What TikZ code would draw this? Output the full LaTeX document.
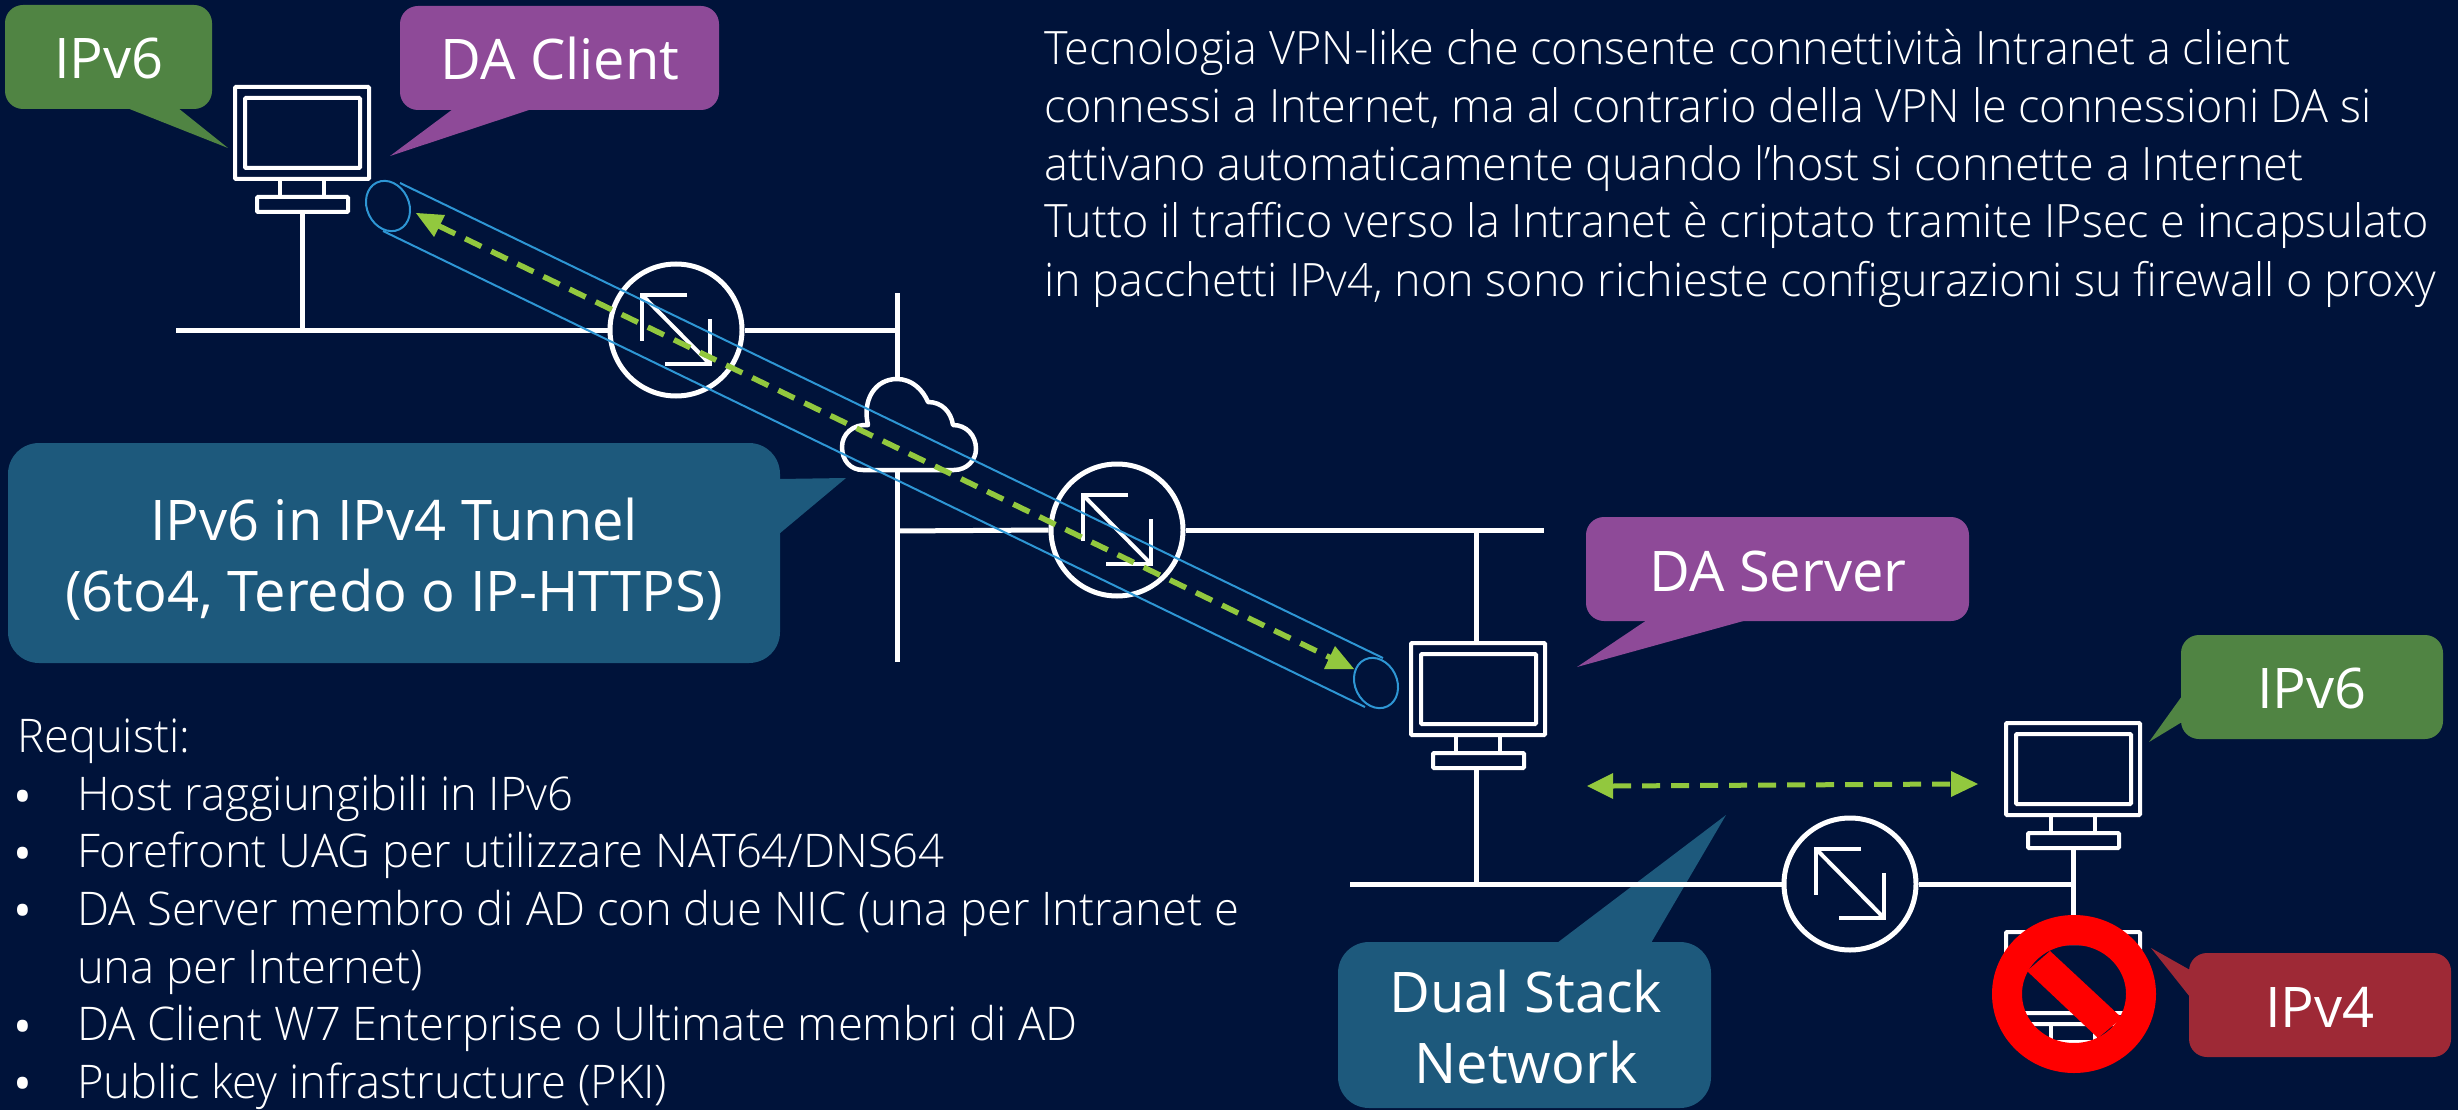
\documentclass[tikz,border=0pt]{standalone}
\usepackage{fontspec}
\setmainfont{Open Sans}
\newfontfamily\lightfont[FakeStretch=0.978]{Open Sans Light}
\usetikzlibrary{arrows.meta}
\definecolor{bgc}{RGB}{0,19,58}
\definecolor{gr}{RGB}{80,132,67}
\definecolor{pu}{RGB}{142,74,152}
\definecolor{te}{RGB}{29,89,124}
\definecolor{re}{RGB}{158,41,54}
\definecolor{tun}{RGB}{46,150,212}
\definecolor{lime}{RGB}{146,200,62}
\tikzset{
 wire/.style={draw=white,line width=5pt},
 thin wire/.style={draw=white,line width=4pt},
 scr/.style={draw=white,line width=4pt,rounded corners=1pt},
 callout/.style={rounded corners=18pt},
 big callout/.style={rounded corners=31pt},
 lab/.style={text=white,font=\fontsize{56}{71}\selectfont,align=center,inner sep=0pt},
 one/.style={lab,anchor=base},
 body/.style={text=white,anchor=base west,inner sep=0pt,font=\lightfont\fontsize{46}{54}\selectfont},
 reqbody/.style={body,font=\lightfont\fontsize{46.4}{54}\selectfont},
 bullet/.style={text=white,anchor=center,inner sep=0pt,font=\fontsize{50}{50}\selectfont},
 dash line/.style={draw=lime,line width=5.5pt,dash pattern=on 18pt off 11pt},
 tube/.style={draw=tun,line width=2pt},
}
\newcommand{\monitor}[2]{%
 \draw[scr] (#1-67,#2-45) rectangle (#1+67,#2+47);
 \draw[scr] (#1-57,#2-34) rectangle (#1+58,#2+36);
 \draw[thin wire] (#1-22,#2+47) -- (#1-22,#2+65) (#1+22,#2+47) -- (#1+22,#2+65);
 \draw[scr] (#1-45,#2+65) rectangle (#1+46,#2+80);
}
\newcommand{\router}[3]{%
 \node[draw=white,line width=5pt,circle,minimum size=132pt,inner sep=0pt] (#3) at (#1,#2) {};
 \draw[white,line width=4pt,miter limit=10] (#1+11,#2-35) -- (#1-34,#2-35) -- (#1-34,#2+11);
 \draw[white,line width=4pt,miter limit=10] (#1-11,#2+34) -- (#1+34,#2+34) -- (#1+34,#2-11);
 \draw[white,line width=4pt] (#1-34,#2-35) -- (#1+34,#2+34);
}
\begin{document}
\begin{tikzpicture}[x=1pt,y=-1pt]
\useasboundingbox (0,0) rectangle (2458,1110);
\fill[bgc] (0,0) rectangle (2458,1110);
% callouts
\fill[gr,callout] (5,5) rectangle (212,109);
\fill[gr] (127,108) -- (228,148) -- (178,108) -- cycle;
\node[one] (c1) at (109,79) {IPv6};
\fill[pu,callout] (400,6) rectangle (719,110);
\fill[pu] (453,109) -- (390,156) -- (532,109) -- cycle;
\node[one] (c2) at (560,80) {DA Client};
\fill[te,big callout] (8,443) rectangle (780,663);
\fill[te] (779,479) -- (846,478) -- (779,534) -- cycle;
\node[lab] (c3) at (394,559) {IPv6 in IPv4 Tunnel\\(6to4, Teredo o IP-HTTPS)};
\fill[pu,callout] (1586,517) rectangle (1969,621);
\fill[pu] (1647,620) -- (1577,667) -- (1747,620) -- cycle;
\node[one] (c4) at (1778,591) {DA Server};
\fill[gr,callout] (2181,635) rectangle (2443,739);
\fill[gr] (2182,696) -- (2149,742) -- (2182,722) -- cycle;
\node[one] (c5) at (2312,708) {IPv6};
\fill[te,big callout] (1338,942) rectangle (1711,1108);
\fill[te] (1557,943) -- (1726,815) -- (1651,943) -- cycle;
\node[lab] (c6) at (1526,1027) {Dual Stack\\Network};
\fill[re,callout] (2189,953) rectangle (2451,1057);
\fill[re] (2190,970) -- (2151,948) -- (2190,997) -- cycle;
\node[one] (c7) at (2320,1027) {IPv4};
% network
\coordinate (b1a) at (176,330); \coordinate (b1b) at (897,330);
\router{676}{330}{r1}
\router{1117}{530}{r2}
\router{1850}{884}{r3}
\monitor{302}{132}
\monitor{1478}{688}
\monitor{2073}{768}
\monitor{2073}{977}
\draw[wire] (b1a) -- (r1.west);
\draw[wire] (r1.east) -- (b1b);
\draw[wire] (302,214) -- (302,330);
\draw[wire] (897,293) -- (897,378);
\draw[wire] (897,470) -- (897,662);
\draw[wire] (897,531) -- (r2.west);
\draw[wire] (r2.east) -- (1544,530);
\draw[wire] (1476,530) -- (1476,642);
\draw[wire] (1476,768) -- (1476,884);
\draw[wire] (1350,884) -- (r3.west);
\draw[wire] (r3.east) -- (2073,884);
\draw[wire] (2073,848) -- (2073,925);
% cloud
\draw[white,line width=4.5pt,line join=round]
 (863,470) .. controls (850,470) and (842,460) .. (842,447)
 .. controls (842,434) and (853,424) .. (868,425)
 .. controls (862,400) and (875,379) .. (897,379)
 .. controls (912,379) and (923,390) .. (928,402)
 .. controls (942,402) and (951,412) .. (953,425)
 .. controls (966,425) and (976,435) .. (976,449)
 .. controls (976,460) and (967,470) .. (954,470) -- cycle;
% tunnel
\draw[tube,rotate around={25.8:(388,206)}] (388,206) ellipse (21pt and 26pt);
\draw[tube,rotate around={25.8:(1376,683)}] (1376,683) ellipse (21pt and 26pt);
\draw[tube] (400,183) -- (1383,658);
\draw[tube] (383,231) -- (1365,707);
\draw[dash line] (439,226) -- (1331,658);
\fill[lime] (416,213) -- (445,215) -- (434,237) -- cycle;
\fill[lime] (1354,669) -- (1335,646) -- (1324,669) -- cycle;
% dual-stack arrow
\draw[dash line,line width=5pt] (1613,786) -- (1951,784);
\fill[lime] (1587,786) -- (1613,773) -- (1613,799) -- cycle;
\fill[lime] (1978,784) -- (1951,771) -- (1951,797) -- cycle;
% no sign
\draw[red,line width=30pt] (2074,994) ellipse (67pt and 64pt);
\fill[red] (2050,951) -- (2027,971) -- (2098,1038) -- (2122,1018) -- cycle;
% text
\node[body] (t1) at (1044,65) {Tecnologia VPN-like che consente connettività Intranet a client};
\node[body] (t2) at (1044,123) {connessi a Internet, ma al contrario della VPN le connessioni DA si};
\node[body] (t3) at (1044,181) {attivano automaticamente quando l’host si connette a Internet};
\node[body] (t4) at (1044,238) {Tutto il traffico verso la Intranet è criptato tramite IPsec e incapsulato};
\node[body] (t5) at (1044,296) {in pacchetti IPv4, non sono richieste configurazioni su firewall o proxy};
\node[reqbody] (q0) at (17,752) {Requisti:};
\node[reqbody] (q1) at (77,810) {Host raggiungibili in IPv6};
\node[reqbody] (q2) at (77,867) {Forefront UAG per utilizzare NAT64/DNS64};
\node[reqbody] (q3) at (77,925) {DA Server membro di AD con due NIC (una per Intranet e};
\node[reqbody] (q4) at (77,983) {una per Internet)};
\node[reqbody] (q5) at (77,1040) {DA Client W7 Enterprise o Ultimate membri di AD};
\node[reqbody] (q6) at (77,1098) {Public key infrastructure (PKI)};
\foreach \yy in {802,859,916,1032,1089}{
 \node[bullet] at (23,\yy) {•};
}
\end{tikzpicture}
\end{document}
